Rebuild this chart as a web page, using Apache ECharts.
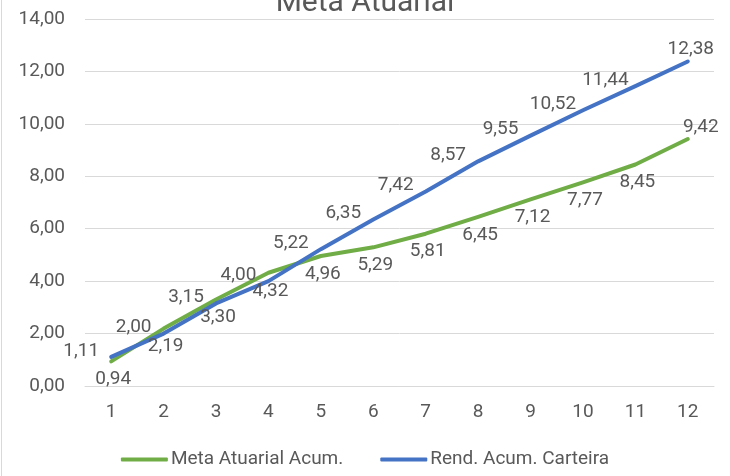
<!DOCTYPE html>
<html><head><meta charset="utf-8">
<script src="https://cdn.jsdelivr.net/npm/echarts@6/dist/echarts.min.js"></script>
<style>html,body{margin:0;padding:0;background:#fff}#c{width:730px;height:476px}</style>
</head><body><div id="c"></div>
<script>
const categories = ['1','2','3','4','5','6','7','8','9','10','11','12'];
const metaAtuarial = [0.94, 2.19, 3.30, 4.32, 4.96, 5.29, 5.81, 6.45, 7.12, 7.77, 8.45, 9.42];
const rendCarteira = [1.11, 2.00, 3.15, 4.00, 5.22, 6.35, 7.42, 8.57, 9.55, 10.52, 11.44, 12.38];
const seriesNames = ['Meta Atuarial Acum.', 'Rend. Acum. Carteira'];
const titleText = 'Meta Atuarial';

const fmt = v => Number(v).toFixed(2).replace('.', ',');
const FONT = 'Roboto';
const TXT = '#595959';
// last point of each series gets its label above the end of the line
const withEndLabel = (arr, off) => arr.map((v, i) =>
  i === arr.length - 1 ? {value: v, label: {offset: off}} : v);

const chart = echarts.init(document.getElementById('c'), null, {renderer: 'canvas'});
chart.setOption({
  animation: false,
  backgroundColor: '#fff',
  textStyle: {fontFamily: FONT},
  title: {text: titleText, left: 'center', top: -17,
    textStyle: {fontFamily: FONT, fontSize: 30, fontWeight: 'normal', color: TXT}},
  grid: {left: 85, right: 16, top: 19, bottom: 90, containLabel: false},
  legend: {bottom: 2, left: 'center', itemWidth: 47, itemHeight: 4, itemGap: 37,
    icon: 'roundRect',
    textStyle: {fontFamily: FONT, fontSize: 19, color: TXT, padding: [0,0,0,-2]},
    data: seriesNames},
  xAxis: {type: 'category', data: categories, boundaryGap: true,
    axisLine: {show: true, lineStyle: {color: '#D9D9D9', width: 1}},
    axisTick: {show: false},
    axisLabel: {color: TXT, fontSize: 19, fontFamily: FONT, margin: 17}},
  yAxis: {type: 'value', min: 0, max: 14, interval: 2,
    axisLine: {show: false}, axisTick: {show: false},
    splitLine: {lineStyle: {color: '#D9D9D9', width: 1}},
    axisLabel: {color: TXT, fontSize: 19, fontFamily: FONT, margin: 20, formatter: fmt}},
  series: [
    {name: seriesNames[0], type: 'line', data: withEndLabel(metaAtuarial, [13, -12]),
     symbol: 'circle', symbolSize: 2, showSymbol: true,
     lineStyle: {color: '#70AD47', width: 4, cap: 'round', join: 'round'}, itemStyle: {color: '#70AD47'},
     label: {show: true, position: 'inside', offset: [2, 18], formatter: p => fmt(p.value),
       color: TXT, fontSize: 19, fontFamily: FONT}},
    {name: seriesNames[1], type: 'line', data: withEndLabel(rendCarteira, [3, -12]),
     symbol: 'circle', symbolSize: 2, showSymbol: true,
     lineStyle: {color: '#4472C4', width: 4, cap: 'round', join: 'round'}, itemStyle: {color: '#4472C4'},
     label: {show: true, position: 'inside', offset: [-30, -6], formatter: p => fmt(p.value),
       color: TXT, fontSize: 19, fontFamily: FONT}}
  ],
  graphic: [{type: 'line', shape: {x1: 1.5, y1: 0, x2: 1.5, y2: 476}, style: {stroke: '#D9D9D9', lineWidth: 1}}]
});
</script></body></html>
